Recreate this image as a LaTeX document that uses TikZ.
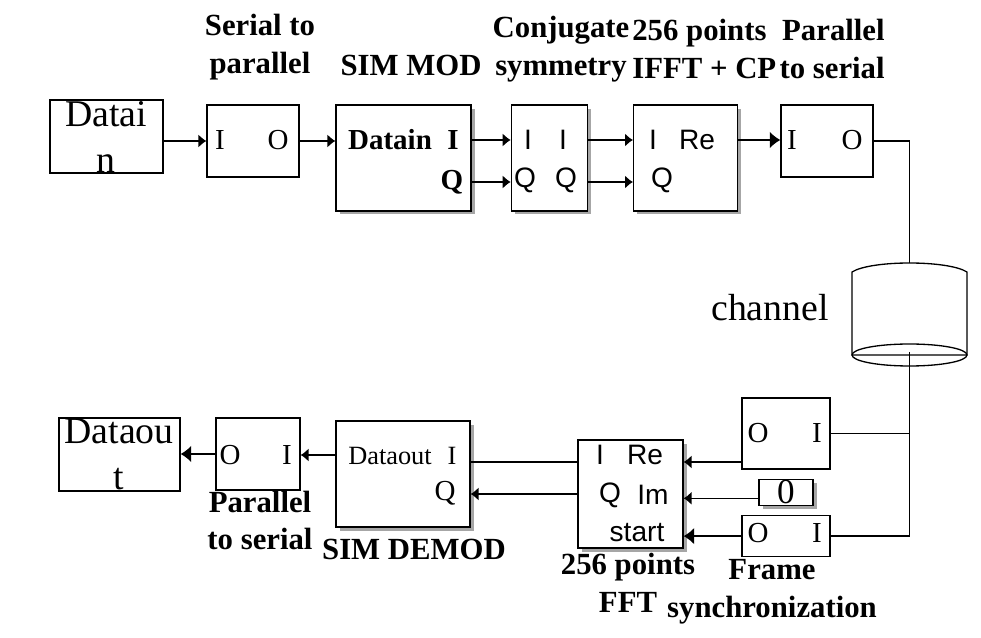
\documentclass[tikz,border=0pt]{standalone}
\usepackage{fontspec}
\setmainfont{Liberation Serif}
\setsansfont{Liberation Sans}
\usetikzlibrary{positioning,arrows.meta,shadows}

\begin{document}
\begin{tikzpicture}[
    x=0.02cm, y=-0.02cm,
    blk/.style={draw, fill=white, line width=0.75pt, inner sep=0pt},
    shd/.style={drop shadow={shadow xshift=2pt, shadow yshift=-2pt, fill=gray!70, opacity=1}},
    bigtxt/.style={font=\fontsize{21.5}{26}\selectfont, align=center, inner sep=0pt},
    lbl/.style={font=\fontsize{17.5}{21.5}\selectfont\bfseries, align=center, inner sep=0pt},
    ptxt/.style={font=\fontsize{16.5}{20}\selectfont, inner sep=0pt},
    stxt/.style={font=\sffamily\fontsize{16}{19}\selectfont, inner sep=0pt},
    wire/.style={line width=0.75pt},
    arr/.style={-{Latex[length=4.5pt,width=7.5pt]}, line width=0.75pt},
    bigarr/.style={-{Latex[length=6pt,width=9.5pt]}, line width=0.75pt},
    node distance=0.18cm and 0.8cm
]
\useasboundingbox (0,0) rectangle (981,638);

% transmitter chain
\node[blk, minimum width=2.26cm, minimum height=1.46cm] (datain) at (106.5,136.5) {};
\node[blk, minimum width=1.84cm, minimum height=1.44cm] (sp) at (253,141) {};
\node[blk, shd, minimum width=2.7cm, minimum height=2.12cm] (mod) at (403.5,158) {};
\node[blk, shd, minimum width=1.52cm, minimum height=2.12cm, right=0.78cm of mod] (conj) {};
\node[blk, shd, minimum width=2.08cm, minimum height=2.12cm, right=0.9cm of conj] (ifft) {};
\node[blk, minimum width=1.84cm, minimum height=1.44cm] (ps) at (827,141) {};

\node[bigtxt] (datain-t) at (106,137) {Datai\\n};
\node[ptxt] (sp-i) at (220,140) {I};
\node[ptxt] (sp-o) at (278,140) {O};
\node[ptxt, font=\fontsize{16.5}{20}\selectfont\bfseries] (mod-d) at (390,140) {Datain};
\node[ptxt, font=\fontsize{16.5}{20}\selectfont\bfseries] (mod-i) at (453,140) {I};
\node[ptxt, font=\fontsize{16.5}{20}\selectfont\bfseries] (mod-q) at (452,182) {Q};
\node[stxt] (conj-i1) at (528,140) {I};
\node[stxt] (conj-i2) at (563,140) {I};
\node[stxt] (conj-q1) at (525,180) {Q};
\node[stxt] (conj-q2) at (566,180) {Q};
\node[stxt] (ifft-i) at (653,140) {I};
\node[stxt] (ifft-re) at (697,140) {Re};
\node[stxt] (ifft-q) at (662,180) {Q};
\node[ptxt] (ps-i) at (792,140) {I};
\node[ptxt] (ps-o) at (852,140) {O};

\node[lbl] (sp-l) at (260,47) {Serial to\\parallel};
\node[lbl] (mod-l) at (411,65) {SIM MOD};
\node[lbl] (conj-l) at (561,49) {Conjugate\\symmetry};
\node[lbl, align=left, anchor=west] (ifft-l) at (632,49) {256 points\\IFFT + CP};
\node[lbl, align=right, anchor=east] (ps-l) at (885,49) {Parallel\\to serial};

% channel
\draw[wire, fill=white] (852,272) .. controls (871,260) and (948,260) .. (967,272) -- (967,355) -- (852,355) -- cycle;
\draw[wire] (909.5,355) ellipse [x radius=1.15cm, y radius=0.22cm];
\coordinate (chtop) at (909.5,263);
\coordinate (chbot) at (909.5,352);
\node[bigtxt] (chan-l) at (770,307.5) {channel};

% receiver chain
\node[blk, minimum width=1.76cm, minimum height=1.42cm] (rxsp) at (786,433.5) {};
\node[blk, shd, minimum width=1.08cm, minimum height=0.52cm, below=0.18cm of rxsp, font=\fontsize{20}{22}\selectfont] (zero) {0};
\node[blk, minimum width=1.76cm, minimum height=0.82cm, below=0.18cm of zero] (sync) {};
\node[blk, shd, minimum width=2.1cm, minimum height=2.16cm] (fft) at (630.5,494) {};
\node[blk, shd, minimum width=2.68cm, minimum height=2.12cm] (demod) at (403,474) {};
\node[blk, minimum width=1.68cm, minimum height=1.44cm] (psrx) at (258,454) {};
\node[blk, minimum width=2.42cm, minimum height=1.46cm] (dataout) at (119.5,454.5) {};

\node[ptxt] (rxsp-o) at (758,433) {O};
\node[ptxt] (rxsp-i) at (817,433) {I};
\node[ptxt] (sync-o) at (758,533) {O};
\node[ptxt] (sync-i) at (817,533) {I};
\node[stxt] (fft-i) at (600,455) {I};
\node[stxt] (fft-re) at (645,455) {Re};
\node[stxt] (fft-q) at (610,495) {Q};
\node[stxt] (fft-im) at (653,495) {Im};
\node[stxt] (fft-s) at (637,533) {start};
\node[ptxt, font=\fontsize{15}{18}\selectfont] (demod-d) at (390,456) {Dataout};
\node[ptxt, font=\fontsize{15}{18}\selectfont] (demod-i) at (452,456) {I};
\node[ptxt] (demod-q) at (445,493) {Q};
\node[ptxt] (psrx-o) at (230,455) {O};
\node[ptxt] (psrx-i) at (287,455) {I};
\node[bigtxt] (dataout-t) at (119,454) {Dataou\\t};

\node[lbl] (psrx-l) at (260,520.5) {Parallel\\to serial};
\node[lbl] (demod-l) at (414,549) {SIM DEMOD};
\node[lbl] (fft-l) at (628,582.5) {256 points\\FFT};
\node[lbl] (sync-l) at (772,591.5) {Frame\\synchronization};

% connectors
\draw[arr] (datain.east |- sp.west) -- (sp.west);
\draw[arr] (sp.east) -- (sp.east -| mod.west);
\draw[arr] ([yshift=0.36cm]mod.east) -- ([yshift=0.36cm]conj.west);
\draw[arr] ([yshift=-0.48cm]mod.east) -- ([yshift=-0.48cm]conj.west);
\draw[arr] ([yshift=0.36cm]conj.east) -- ([yshift=0.36cm]ifft.west);
\draw[arr] ([yshift=-0.48cm]conj.east) -- ([yshift=-0.48cm]ifft.west);
\draw[bigarr] ([yshift=0.36cm]ifft.east) -- ([yshift=0.36cm]ifft.east -| ps.west);
\draw[wire] (ps.east) -| (chtop);
\draw[wire] (chbot) |- (sync.east);
\draw[wire] (rxsp.east) -- (rxsp.east -| chbot);
\draw[arr] ([yshift=-0.57cm]rxsp.west) -- ([yshift=-0.57cm]rxsp.west -| fft.east);
\draw[arr] ([yshift=-0.12cm]zero.west) -- ([yshift=-0.12cm]zero.west -| fft.east);
\draw[bigarr] (sync.west) -- (sync.west -| fft.east);
\draw[wire] ([yshift=0.64cm]fft.west) -- ([yshift=0.64cm]fft.west -| demod.east);
\draw[arr] (fft.west) -- (fft.west -| demod.east);
\draw[arr] ([yshift=0.38cm]demod.west) -- ([yshift=0.38cm]demod.west -| psrx.east);
\draw[bigarr] (psrx.west) -- (psrx.west -| dataout.east);
\end{tikzpicture}
\end{document}
